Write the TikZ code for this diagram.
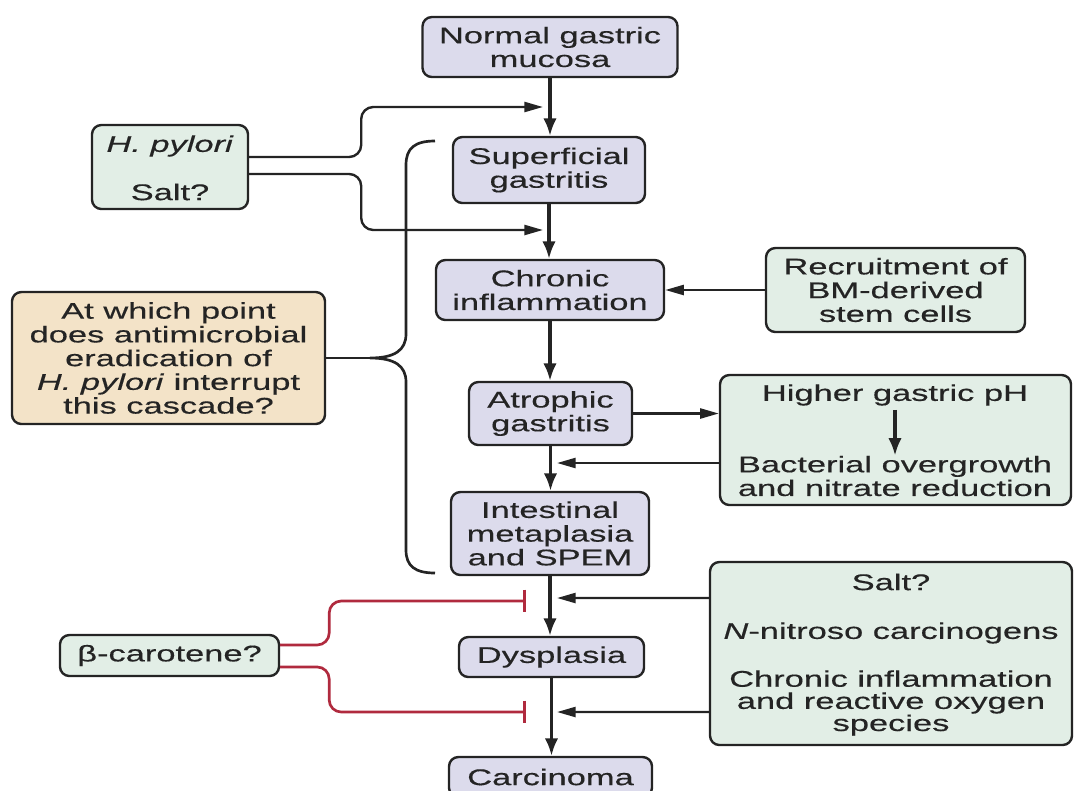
\documentclass[tikz,border=0pt]{standalone}
\usepackage{fontspec}
\setmainfont[FakeStretch=1.52,FakeBold=0.4]{Liberation Sans}
\usetikzlibrary{arrows.meta}
\definecolor{procfill}{RGB}{220,219,236}
\definecolor{cuefill}{RGB}{226,238,230}
\definecolor{askfill}{RGB}{243,227,200}
\definecolor{inkcol}{RGB}{36,36,36}
\definecolor{redcol}{RGB}{176,42,62}
\begin{document}
\begin{tikzpicture}[x=0.75pt,y=-0.75pt,
  every node/.style={font=\fontsize{17}{17.8}\selectfont, text=inkcol},
  box/.style={draw=inkcol, line width=1.8pt, rounded corners=7pt, inner sep=0pt, align=center},
  proc/.style={box, fill=procfill},
  cue/.style={box, fill=cuefill},
  ask/.style={box, fill=askfill},
  txt/.style={inner sep=0pt, align=center},
  flow/.style={draw=inkcol, line width=2.3pt, -{Latex[length=13pt,width=10pt]}},
  feed/.style={draw=inkcol, line width=1.8pt, -{Triangle[length=14pt,width=7.5pt]}},
  inhib/.style={draw=redcol, line width=2pt, -{Bar[width=17pt,line width=2pt]}},
  bracket/.style={draw=inkcol, line width=2pt}
]
\useasboundingbox (0,0) rectangle (1074,790);

% main cascade
\node[proc, minimum width=191.25pt, minimum height=45pt] (normal) at (550,47) {Normal gastric\\mucosa};
\node[proc, minimum width=144pt, minimum height=49.5pt] (superficial) at (549,170) {Superficial\\gastritis};
\node[proc, minimum width=171pt, minimum height=45pt] (chronic) at (550,290) {Chronic\\inflammation};
\node[proc, minimum width=122.25pt, minimum height=47.25pt] (atrophic) at (550.5,413.5) {Atrophic\\gastritis};
\node[proc, minimum width=148.5pt, minimum height=62.25pt] (intestinal) at (550,533.5) {Intestinal\\metaplasia\\and SPEM};
\node[proc, minimum width=138.75pt, minimum height=30pt] (dysplasia) at (551.5,657) {Dysplasia};
\node[proc, minimum width=152.25pt, minimum height=30pt] (carcinoma) at (550.5,777) {Carcinoma};

% side boxes
\node[cue, minimum width=117pt, minimum height=63pt] (hp) at (170,167) {};
\node[txt] (hpA) at (170,146) {\textit{H. pylori}};
\node[txt] (hpB) at (170,192) {Salt?};

\node[ask, minimum width=234.75pt, minimum height=99pt] (question) at (168.5,358)
  {At which point\\does antimicrobial\\eradication of\\\textit{H. pylori} interrupt\\this cascade?};

\node[cue, minimum width=194.25pt, minimum height=63pt] (recruit) at (895.5,290)
  {Recruitment of\\BM-derived\\stem cells};

\node[cue, minimum width=263.25pt, minimum height=97.5pt] (ph) at (895.5,440) {};
\node[txt] (phA) at (895,395) {Higher gastric pH};
\node[txt] (phB) at (895,476) {Bacterial overgrowth\\and nitrate reduction};

\node[cue, minimum width=271.5pt, minimum height=137.25pt] (salt) at (891,653.5) {};
\node[txt] (saltA) at (891,582) {Salt?};
\node[txt] (saltB) at (891,633) {\textit{N}-nitroso carcinogens};
\node[txt, font=\fontsize{17}{16.6}\selectfont] (saltC) at (891,703) {Chronic inflammation\\and reactive oxygen\\species};

\node[cue, minimum width=164.25pt, minimum height=30.75pt] (beta) at (169.5,655.5) {β-carotene?};

% junction points on the main line
\coordinate (j1) at (543,107);
\coordinate (j2) at (543,230);
\coordinate (j3) at (557,463);
\coordinate (j4) at (557,598);
\coordinate (j5) at (557,712);
\coordinate (r1) at (526,601);
\coordinate (r2) at (526,712);

% main arrows
\draw[flow] (normal.south) -- (normal.south |- superficial.north);
\draw[flow] (superficial.south) -- (superficial.south |- chronic.north);
\draw[flow] (chronic.south) -- (chronic.south |- atrophic.north);
\draw[flow] (atrophic.south) -- (atrophic.south |- intestinal.north);
\draw[flow] (intestinal.south) -- (intestinal.south |- dysplasia.north);
\draw[flow] (dysplasia.south) -- (dysplasia.south |- carcinoma.north);

% feeds
\draw[feed, rounded corners=9pt] ([yshift=7.5pt]hp.east) -- ++(112,0) |- (j1);
\draw[feed, rounded corners=9pt] ([yshift=-5.25pt]hp.east) -- ++(112,0) |- (j2);
\draw[feed] (recruit.west) -- (chronic.east);
\draw[feed] (atrophic.east) -- (atrophic.east -| ph.west);
\draw[feed] ([yshift=-17.25pt]ph.west) -- (j3);
\draw[flow, shorten <=3pt] (phA.south) -- (phB.north);
\draw[feed] ([yshift=41.6pt]salt.west) -- (j4);
\draw[feed] ([yshift=-43.9pt]salt.west) -- (j5);

% inhibitions
\draw[inhib, rounded corners=9pt] ([yshift=7.9pt]beta.east) -- ++(49,0) |- (r1);
\draw[inhib, rounded corners=9pt] ([yshift=-8.6pt]beta.east) -- ++(49,0) |- (r2);

% brace
\coordinate (cusp) at (370,358);
\draw[bracket] (question.east) -- (cusp);
\draw[bracket] (435,141) .. controls (415,141) and (406,148) .. (406,165) -- (406,334)
  .. controls (406,350) and (395,358) .. (cusp)
  .. controls (395,358) and (406,366) .. (406,382) -- (406,550)
  .. controls (406,566) and (415,573) .. (435,573);
\end{tikzpicture}
\end{document}
